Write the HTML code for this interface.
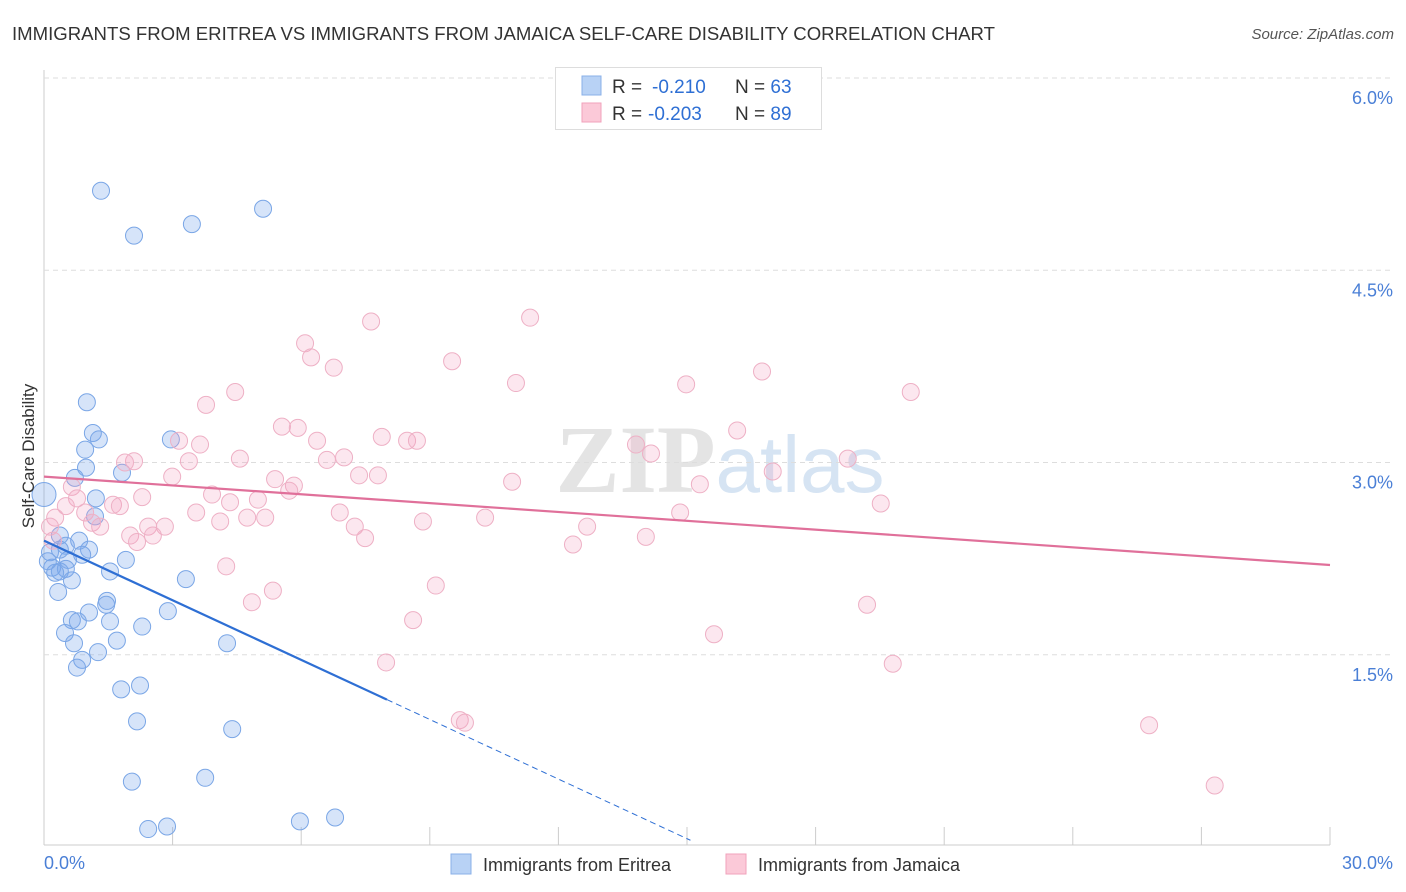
<!DOCTYPE html>
<html><head><meta charset="utf-8"><style>
body{margin:0;background:#fff;font-family:"Liberation Sans",sans-serif;}
svg{display:block}
</style></head><body>
<svg id="c" width="1406" height="892" xmlns="http://www.w3.org/2000/svg">
<text x="12" y="40" font-size="18.5" fill="#333" textLength="983" lengthAdjust="spacingAndGlyphs">IMMIGRANTS FROM ERITREA VS IMMIGRANTS FROM JAMAICA SELF-CARE DISABILITY CORRELATION CHART</text>
<text x="1394" y="39" font-size="15" fill="#555" text-anchor="end" font-style="italic">Source: ZipAtlas.com</text>
<text x="720" y="492" font-size="96" fill="#e4e4e4" text-anchor="middle" font-family="Liberation Serif" font-weight="bold">ZIP<tspan fill="#d6e4f3" font-family="Liberation Sans" font-weight="normal" font-size="80">atlas</tspan></text>
<g id="grid"></g><g id="pts"></g><g id="lines"></g>
<text transform="translate(34,456) rotate(-90)" font-size="17" fill="#333" text-anchor="middle">Self-Care Disability</text>
<text x="44" y="869" font-size="18" fill="#4a7fd6">0.0%</text>
<text x="1393" y="869" font-size="18" fill="#4a7fd6" text-anchor="end">30.0%</text>
<g>
<rect x="555.5" y="67.5" width="266" height="62" fill="#fff" stroke="#ddd"/>
<rect x="582" y="76" width="19" height="19" fill="#b8d2f5" stroke="#8ab0e8"/>
<rect x="582" y="103" width="19" height="19" fill="#fbc9d8" stroke="#f0a2bb"/>
<text x="612" y="93" font-size="19" fill="#333">R = <tspan x="652" fill="#2e6fd4">-0.210</tspan><tspan x="735">N = </tspan><tspan fill="#2e6fd4">63</tspan></text>
<text x="612" y="120" font-size="19" fill="#333">R = <tspan x="648" fill="#2e6fd4">-0.203</tspan><tspan x="735">N = </tspan><tspan fill="#2e6fd4">89</tspan></text>
</g>
<g>
<rect x="451" y="854" width="20" height="20" fill="#b8d2f5" stroke="#8ab0e8"/>
<text x="483" y="871" font-size="18" fill="#333">Immigrants from Eritrea</text>
<rect x="726" y="854" width="20" height="20" fill="#fbc9d8" stroke="#f0a2bb"/>
<text x="758" y="871" font-size="18" fill="#333">Immigrants from Jamaica</text>
</g>
</svg>
<script>
const yTicks=[1.5,3.0,4.5,6.0];
const yTickLabels=["1.5%","3.0%","4.5%","6.0%"];
const xTicks=[0,3,6,9,12,15,18,21,24,27,30];
const eritreaX=[1.33,2.10,3.45,5.11,1.00,1.14,1.28,2.96,0.96,0.98,1.82,0.72,1.21,0,1.19,0.37,0.82,0.51,1.05,0.14,0.89,1.91,0.56,0.19,0.37,0.51,0.26,1.54,0.65,3.31,0.33,1.47,1.45,1.05,2.89,0.65,0.79,1.54,2.29,0.49,1.70,0.70,4.27,1.26,0.89,0.77,1.80,2.24,2.17,4.39,2.05,3.76,2.43,2.87,5.97,6.79,0.37,0.09];
const eritreaY=[5.12,4.77,4.86,4.98,3.47,3.23,3.18,3.18,3.10,2.96,2.92,2.88,2.72,2.75,2.58,2.43,2.39,2.35,2.32,2.30,2.28,2.24,2.24,2.18,2.15,2.17,2.14,2.15,2.08,2.09,1.99,1.92,1.89,1.83,1.84,1.77,1.76,1.76,1.72,1.67,1.61,1.59,1.59,1.52,1.46,1.40,1.23,1.26,0.98,0.92,0.51,0.54,0.14,0.16,0.20,0.23,2.32,2.23];
const jamaicaX=[7.63,11.34,6.09,6.23,6.76,9.52,11.01,14.98,16.75,20.22,4.46,3.78,5.55,5.92,3.15,3.64,6.37,7.88,8.47,8.70,13.81,14.16,16.17,4.57,3.38,2.10,1.89,6.60,7.00,18.75,17.00,2.99,5.39,7.35,7.79,10.92,15.30,0.65,5.83,5.72,3.92,0.77,2.29,4.99,4.34,1.61,1.77,0.51,19.52,3.55,6.90,14.84,0.96,4.74,5.16,10.29,0.26,4.11,8.84,1.12,1.31,2.43,2.82,7.25,12.67,0.14,2.01,2.54,2.17,7.49,14.04,12.34,4.25,9.14,5.34,4.85,19.20,8.61,15.63,7.98,19.80,9.70,9.82,25.78,27.31,0.21];
const jamaicaY=[4.10,4.13,3.93,3.82,3.74,3.79,3.62,3.61,3.71,3.55,3.55,3.45,3.28,3.27,3.17,3.14,3.17,3.20,3.17,3.17,3.14,3.07,3.25,3.03,3.01,3.01,3.00,3.02,3.04,3.03,2.93,2.89,2.87,2.90,2.90,2.85,2.83,2.81,2.82,2.78,2.75,2.72,2.73,2.71,2.69,2.67,2.66,2.66,2.68,2.61,2.61,2.61,2.61,2.57,2.57,2.57,2.57,2.54,2.54,2.53,2.50,2.50,2.50,2.50,2.50,2.50,2.43,2.43,2.38,2.41,2.42,2.36,2.19,2.04,2.00,1.91,1.89,1.77,1.66,1.44,1.43,0.99,0.97,0.95,0.48,2.39];
const eritreaFit=[2.39,-0.155]; const eritreaFitEnd=[8.0,15.08];
const jamaicaFit=[2.89,-0.023];
const X=v=>44+v*(1286/30), Y=v=>847-v*(769/6);
const NS="http://www.w3.org/2000/svg";
function mk(t,a,p){const e=document.createElementNS(NS,t);for(const k in a)e.setAttribute(k,a[k]);p.appendChild(e);return e;}
const grid=document.getElementById('grid');
mk('line',{x1:44,y1:70,x2:44,y2:845,stroke:'#ccc'},grid);
mk('line',{x1:44,y1:845,x2:1330,y2:845,stroke:'#ccc'},grid);
yTicks.forEach((t,i)=>{
 const g=mk('line',{x1:44,y1:Y(t),x2:1394,y2:Y(t),stroke:'#ddd','stroke-dasharray':'5,4'},grid);
 
 
 const l=mk('text',{x:1393,y:Y(t)+26,'font-size':18,fill:'#4a7fd6','text-anchor':'end'},grid);
 l.textContent=yTickLabels[i];
 
 
});
xTicks.forEach(t=>{
 const l=mk('line',{x1:X(t),y1:827,x2:X(t),y2:845,stroke:'#ccc'},grid);
 
 
});
const pts=document.getElementById('pts');
eritreaX.forEach((x,i)=>{
 const c=mk('circle',{cx:X(x),cy:Y(eritreaY[i]),r:x===0?12:8.5,fill:'rgba(120,165,235,0.3)',stroke:'#7aa6e6','stroke-width':1},pts);
 
 
});
jamaicaX.forEach((x,i)=>{
 const c=mk('circle',{cx:X(x),cy:Y(jamaicaY[i]),r:8.5,fill:'rgba(245,160,190,0.25)',stroke:'#eeb0c5','stroke-width':1},pts);
 
 
});
const ln=document.getElementById('lines');
const f=(p,x)=>p[0]+p[1]*x;
let a=mk('line',{x1:X(0),y1:Y(f(eritreaFit,0)),x2:X(eritreaFitEnd[0]),y2:Y(f(eritreaFit,eritreaFitEnd[0])),stroke:'#2e6fd4','stroke-width':2.2},ln);


a=mk('line',{x1:X(eritreaFitEnd[0]),y1:Y(f(eritreaFit,eritreaFitEnd[0])),x2:X(eritreaFitEnd[1]),y2:Y(f(eritreaFit,eritreaFitEnd[1])),stroke:'#2e6fd4','stroke-width':1,'stroke-dasharray':'6,4'},ln);


a=mk('line',{x1:X(0),y1:Y(f(jamaicaFit,0)),x2:X(30),y2:Y(f(jamaicaFit,30)),stroke:'#e0709a','stroke-width':2.2},ln);


</script>
</body></html>
